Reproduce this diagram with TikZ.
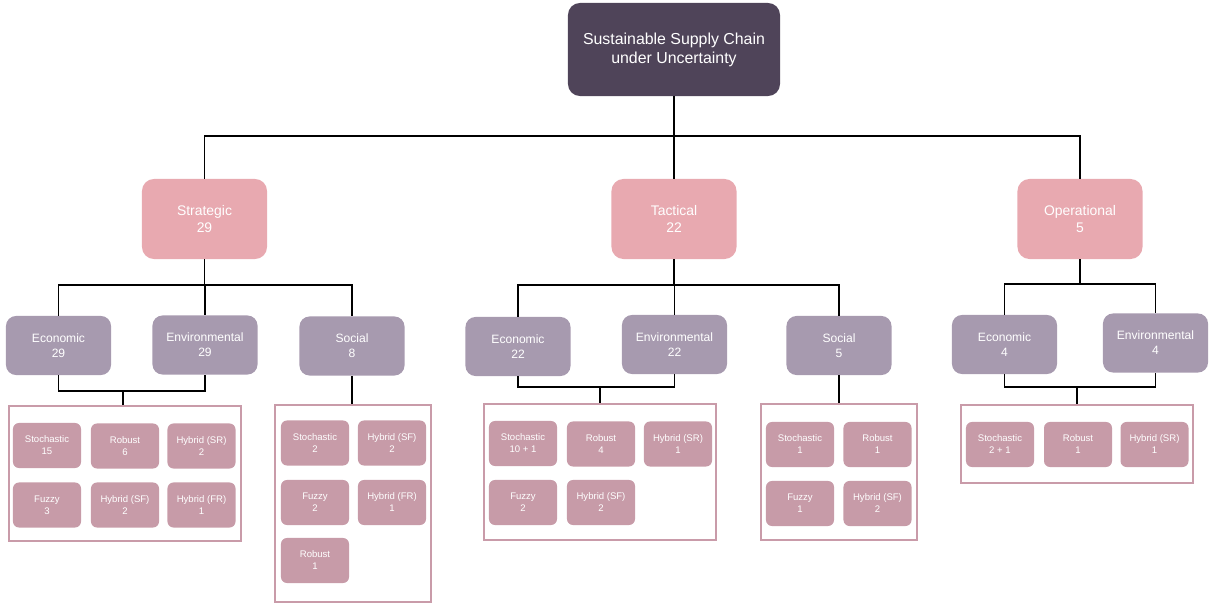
\documentclass[tikz,border=0pt]{standalone}
\usepackage{fontspec}
\setmainfont{Liberation Sans}
\usepackage{tikz}
\usepackage{xcolor}
\usetikzlibrary{positioning}

\definecolor{rootcol}{HTML}{4F4459}
\definecolor{tiercol}{HTML}{E8A9B0}
\definecolor{pillarcol}{HTML}{A79AAF}
\definecolor{methodcol}{HTML}{C79BA8}
\definecolor{groupcol}{HTML}{C99BA9}

\tikzset{
	rootbox/.style={fill=rootcol, text=white, rounded corners=0.3cm, align=center,
		minimum width=5.3cm, minimum height=2.325cm, font=\fontsize{11.3}{13.5}\selectfont},
	tierbox/.style={fill=tiercol, text=white, rounded corners=0.3cm, align=center,
		minimum width=3.125cm, minimum height=2cm, font=\fontsize{9.9}{12}\selectfont},
	pillarbox/.style={fill=pillarcol, text=white, rounded corners=0.25cm, align=center,
		minimum width=2.625cm, minimum height=1.475cm, font=\fontsize{8.6}{10.7}\selectfont},
	methodbox/.style={fill=methodcol, text=white, rounded corners=0.15cm, align=center,
		minimum width=1.7cm, minimum height=1.125cm, font=\fontsize{6.8}{8.5}\selectfont},
	groupbox/.style={draw=groupcol, line width=1.2pt},
	link/.style={draw=black, line width=0.8pt}
}

\begin{document}
\begin{tikzpicture}[x=0.025cm, y=-0.025cm]
	\useasboundingbox (0,0) rectangle (1212,603);

	\node[rootbox] (root) at (674, 49.5) {Sustainable Supply Chain\\under Uncertainty};

	\node[tierbox] (strat) at (204.5, 219) {Strategic\\29};
	\node[tierbox] (tact)  at (674, 219)   {Tactical\\22};
	\node[tierbox] (oper)  at (1080, 219)  {Operational\\5};

	\node[pillarbox] (ecoS) at (58.5, 345.5) {Economic\\29};
	\node[pillarbox] (envS) at (205, 345)    {Environmental\\29};
	\node[pillarbox] (socS) at (352, 346)    {Social\\8};

	\node[pillarbox] (ecoT) at (518, 346.5)  {Economic\\22};
	\node[pillarbox] (envT) at (674.5, 344.5) {Environmental\\22};
	\node[pillarbox] (socT) at (839, 345.5)  {Social\\5};

	\node[pillarbox] (ecoO) at (1004.5, 344.5) {Economic\\4};
	\node[pillarbox] (envO) at (1155.5, 343)   {Environmental\\4};

	\node[groupbox, minimum width=5.8cm, minimum height=3.375cm] (grpSE) at (125, 473.5) {};
	\node[groupbox, minimum width=3.9cm, minimum height=4.925cm] (grpSS) at (353, 503.5) {};
	\node[groupbox, minimum width=5.8cm, minimum height=3.4cm]   (grpTE) at (600, 472) {};
	\node[groupbox, minimum width=3.9cm, minimum height=3.4cm]   (grpTS) at (839, 472) {};
	\node[groupbox, minimum width=5.8cm, minimum height=1.95cm]  (grpOE) at (1077, 444) {};

	\node[methodbox] (seSto) at (47, 445.5)   {Stochastic\\15};
	\node[methodbox] (seRob) at (125, 446)    {Robust\\6};
	\node[methodbox] (seSR)  at (201.5, 446)  {Hybrid (SR)\\2};
	\node[methodbox] (seFuz) at (47, 505)     {Fuzzy\\3};
	\node[methodbox] (seSF)  at (125, 505)    {Hybrid (SF)\\2};
	\node[methodbox] (seFR)  at (201.5, 505)  {Hybrid (FR)\\1};

	\node[methodbox] (ssSto) at (315, 443)    {Stochastic\\2};
	\node[methodbox] (ssSF)  at (392, 443)    {Hybrid (SF)\\2};
	\node[methodbox] (ssFuz) at (315, 502.5)  {Fuzzy\\2};
	\node[methodbox] (ssFR)  at (392, 502.5)  {Hybrid (FR)\\1};
	\node[methodbox] (ssRob) at (315, 560.5)  {Robust\\1};

	\node[methodbox] (teSto) at (523, 443.5)  {Stochastic\\10 + 1};
	\node[methodbox] (teRob) at (601, 444)    {Robust\\4};
	\node[methodbox] (teSR)  at (678, 444)    {Hybrid (SR)\\1};
	\node[methodbox] (teFuz) at (523, 502.5)  {Fuzzy\\2};
	\node[methodbox] (teSF)  at (601, 502.5)  {Hybrid (SF)\\2};

	\node[methodbox] (tsSto) at (800, 444.5)  {Stochastic\\1};
	\node[methodbox] (tsRob) at (877.5, 444.5) {Robust\\1};
	\node[methodbox] (tsFuz) at (800, 503.5)  {Fuzzy\\1};
	\node[methodbox] (tsSF)  at (877.5, 503.5) {Hybrid (SF)\\2};

	\node[methodbox] (oeSto) at (1000, 444.5) {Stochastic\\2 + 1};
	\node[methodbox] (oeRob) at (1078, 444.5) {Robust\\1};
	\node[methodbox] (oeSR)  at (1154.5, 444.5) {Hybrid (SR)\\1};

	\coordinate (busR) at (674, 136);
	\coordinate (busS) at (204.5, 285);
	\coordinate (busT) at (674, 285);
	\coordinate (busO) at (1080, 284);
	\coordinate (joinS) at (123, 391);
	\coordinate (joinT) at (600, 387);
	\coordinate (joinO) at (1077, 387);

	\draw[link] (root) -- (busR);
	\draw[link] (strat.north) |- (busR) -| (oper.north);
	\draw[link] (busR) -- (tact.north);

	\draw[link] (strat) -- (busS);
	\draw[link] (ecoS.north) |- (busS) -| (socS.north);
	\draw[link] (envS.north |- busS) -- (envS.north);

	\draw[link] (tact) -- (busT);
	\draw[link] (ecoT.north) |- (busT) -| (socT.north);
	\draw[link] (envT.north |- busT) -- (envT.north);

	\draw[link] (oper) -- (busO);
	\draw[link] (ecoO.north) |- (busO) -| (envO.north);

	\draw[link] (ecoS.south) |- (joinS) -| (envS.south);
	\draw[link] (joinS) -- (joinS |- grpSE.north);
	\draw[link] (socS) -- (socS |- grpSS.north);

	\draw[link] (ecoT.south) |- (joinT) -| (envT.south);
	\draw[link] (joinT) -- (joinT |- grpTE.north);
	\draw[link] (socT) -- (socT |- grpTS.north);

	\draw[link] (ecoO.south) |- (joinO) -| (envO.south);
	\draw[link] (joinO) -- (joinO |- grpOE.north);
\end{tikzpicture}
\end{document}
